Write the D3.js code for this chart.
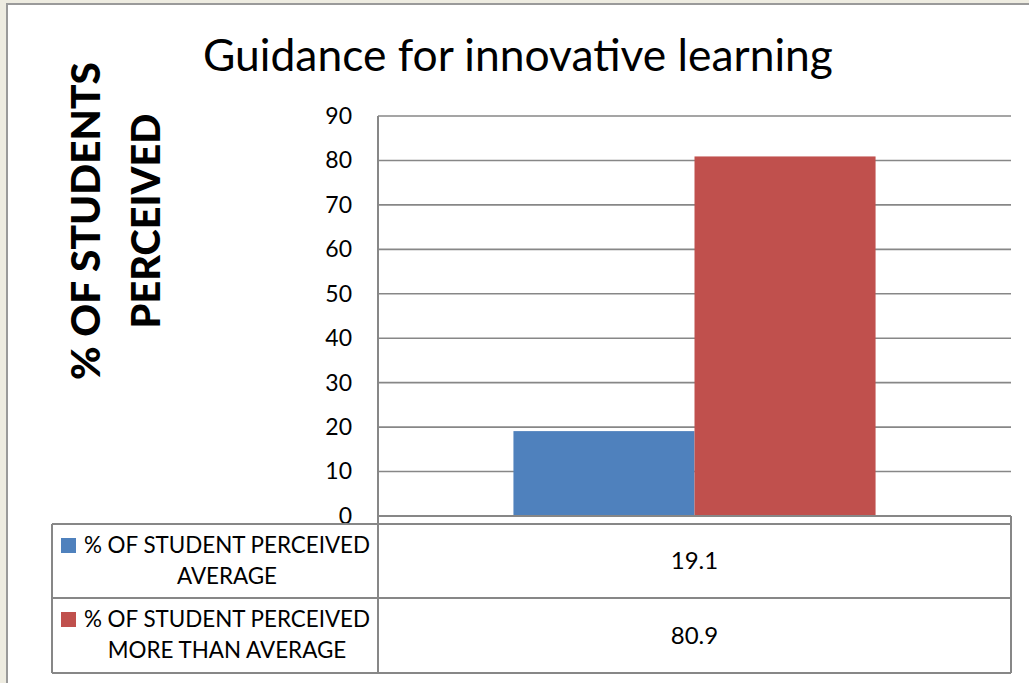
<!DOCTYPE html>
<html>
<head>
<meta charset="utf-8">
<script src="https://cdn.jsdelivr.net/npm/d3@7"></script>
<style>
  html, body { margin: 0; padding: 0; background: #eeece1; }
  svg { display: block; }
  text { font-family: Lato, "Open Sans", sans-serif; fill: #000; }
</style>
</head>
<body>
<svg id="chart" width="1029" height="683"></svg>
<script>
// ---- data ----
const categories = ["Guidance for innovative learning"];
const seriesNames = ["% OF STUDENT PERCEIVED AVERAGE", "% OF STUDENT PERCEIVED MORE THAN AVERAGE"];
const seriesLines = [["% OF STUDENT PERCEIVED", "AVERAGE"], ["% OF STUDENT PERCEIVED", "MORE THAN AVERAGE"]];
const seriesValues = [19.1, 80.9];
const seriesColors = ["#4f81bd", "#c0504d"];
const yTicks = [0, 10, 20, 30, 40, 50, 60, 70, 80, 90];
const chartTitle = "Guidance for innovative learning";
const yTitleLines = ["% OF STUDENTS", "PERCEIVED"];

// ---- layout ----
const svg = d3.select("#chart");
const W = 1029, H = 683;
const plotL = 378, plotR = 1011, plotT = 116, plotB = 516;
const tabL = 52, tabTop = 524, tabMid = 598, tabBot = 673;
const gridColor = "#878787";

// helper: fit text to a target width
function fit(sel, target, base) {
  sel.attr("font-size", base);
  const w = sel.node().getComputedTextLength();
  sel.attr("font-size", base * target / w);
  return sel;
}

// panel
svg.append("rect").attr("x", 0).attr("y", 0).attr("width", W).attr("height", H).attr("fill", "#eeece1");
svg.append("rect").attr("x", 7).attr("y", 4).attr("width", W + 20).attr("height", H + 20)
  .attr("fill", "#fff").attr("stroke", "#9a9a9a").attr("stroke-width", 2);

// scales
const y = d3.scaleLinear().domain([0, 90]).range([plotB, plotT]);
const x0 = d3.scaleBand().domain(categories).range([plotL, plotR]).paddingInner(0).paddingOuter(0.374);
const x1 = d3.scaleBand().domain(seriesNames).range([0, x0.bandwidth()]);

// gridlines
svg.append("g").selectAll("line").data(yTicks.filter(d => d > 0)).join("line")
  .attr("x1", plotL).attr("x2", plotR)
  .attr("y1", d => y(d)).attr("y2", d => y(d))
  .attr("stroke", gridColor).attr("stroke-width", 1.6);

// bars
svg.append("g").selectAll("rect").data(seriesValues).join("rect")
  .attr("x", (d, i) => x0(categories[0]) + x1(seriesNames[i]))
  .attr("width", x1.bandwidth())
  .attr("y", d => y(d))
  .attr("height", d => y(0) - y(d))
  .attr("fill", (d, i) => seriesColors[i]);

// y axis (labels only)
const yAxis = d3.axisLeft(y).tickValues(yTicks).tickSize(0).tickPadding(26);
const ax = svg.append("g").attr("transform", `translate(${plotL},0)`).call(yAxis);
ax.select(".domain").remove();
ax.selectAll("text").attr("font-size", 23).attr("font-family", "Lato, sans-serif").attr("fill", "#000");

// zero line
svg.append("line").attr("x1", plotL).attr("x2", plotR).attr("y1", y(0)).attr("y2", y(0))
  .attr("stroke", gridColor).attr("stroke-width", 1.8);

// data table
const tg = svg.append("g").attr("stroke", gridColor).attr("stroke-width", 2).attr("fill", "none");
[tabTop, tabMid, tabBot].forEach(yy => tg.append("line").attr("x1", tabL).attr("x2", plotR).attr("y1", yy).attr("y2", yy));
tg.append("line").attr("x1", tabL).attr("x2", tabL).attr("y1", tabTop).attr("y2", tabBot);
tg.append("line").attr("x1", plotL).attr("x2", plotL).attr("y1", plotT).attr("y2", tabBot);
tg.append("line").attr("x1", plotR).attr("x2", plotR).attr("y1", plotB).attr("y2", tabBot);

const rowTops = [tabTop, tabMid];
const rowH = [tabMid - tabTop, tabBot - tabMid];
seriesValues.forEach((v, i) => {
  const top = rowTops[i], h = rowH[i];
  // legend key
  svg.append("rect").attr("x", 61).attr("y", top + 14).attr("width", 15).attr("height", 15)
    .attr("fill", seriesColors[i]);
  // label lines
  seriesLines[i].forEach((ln, j) => {
    svg.append("text").attr("x", 227).attr("y", top + 29 + j * 31)
      .attr("text-anchor", "middle").attr("font-size", 22.4).text(ln);
  });
  // value
  svg.append("text").attr("x", x0(categories[0]) + x0.bandwidth() / 2).attr("y", top + h / 2 + 8)
    .attr("text-anchor", "middle").attr("font-size", 24).text(v.toFixed(1));
});

// title
const t = svg.append("text").attr("x", 518).attr("y", 71).attr("text-anchor", "middle").text(chartTitle);
fit(t, 630, 44);

// y-axis title
const yt = svg.append("g").attr("transform", "translate(0,221) rotate(-90)");
const yl1 = yt.append("text").attr("x", 0).attr("y", 100).attr("text-anchor", "middle")
  .attr("font-weight", 900).text(yTitleLines[0]);
fit(yl1, 318, 40);
const yl2 = yt.append("text").attr("x", 0).attr("y", 160).attr("text-anchor", "middle")
  .attr("font-weight", 900).text(yTitleLines[1]);
fit(yl2, 215, 40);
</script>
</body>
</html>
